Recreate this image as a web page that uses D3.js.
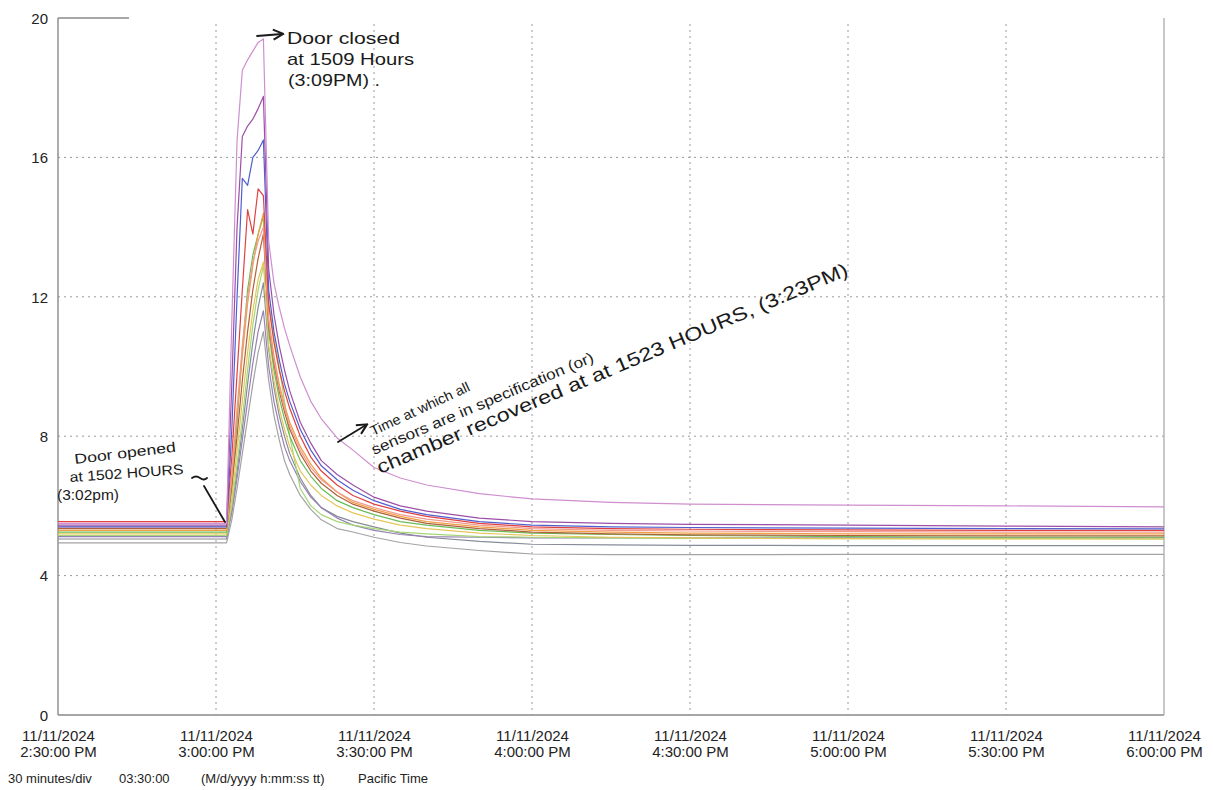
<!DOCTYPE html>
<html>
<head>
<meta charset="utf-8">
<script src="https://cdn.jsdelivr.net/npm/d3@7/dist/d3.min.js"></script>
<style>
  html, body { margin: 0; padding: 0; background: #ffffff; }
  svg { display: block; }
  .tick text { font-family: "Liberation Sans", Arial, sans-serif; fill: #222; }
  .note { font-family: "Liberation Sans", Arial, sans-serif; fill: #1a1a1a; }
</style>
</head>
<body>
<svg id="chart" width="1213" height="790"></svg>
<script>
// Minutes after 2:30:00 PM at which each sensor reading was logged
const minutes = [0, 32, 33, 34, 35, 36, 37, 38, 39, 40, 41, 42, 43, 44, 46, 48, 50, 53, 56, 60, 65, 70, 80, 90, 105, 120, 150, 180, 210];

// Sensor temperatures (°C), one array per probe
const sensorPink      = [5.50, 5.50, 11.3, 16.5, 18.5, 18.8, 19.05, 19.3, 19.4, 13.6, 12.4, 11.7, 11.1, 10.6, 9.7, 9.0, 8.5, 7.95, 7.6, 7.1, 6.8, 6.6, 6.35, 6.2, 6.1, 6.05, 6.02, 6.0, 5.97];
const sensorPurple    = [5.45, 5.45, 9.5, 14.0, 16.6, 16.9, 17.1, 17.4, 17.75, 12.8, 11.5, 10.6, 9.9, 9.3, 8.4, 7.8, 7.3, 6.9, 6.6, 6.25, 6.0, 5.85, 5.65, 5.55, 5.5, 5.47, 5.45, 5.42, 5.40];
const sensorBlue      = [5.40, 5.40, 8.2, 12.0, 15.4, 15.2, 16.0, 16.2, 16.5, 12.2, 11.0, 10.2, 9.5, 9.0, 8.2, 7.6, 7.15, 6.75, 6.45, 6.15, 5.9, 5.75, 5.55, 5.45, 5.4, 5.38, 5.36, 5.35, 5.34];
const sensorRed       = [5.55, 5.55, 7.4, 9.8, 12.2, 14.5, 13.8, 15.1, 14.9, 11.8, 10.7, 9.9, 9.3, 8.8, 8.0, 7.4, 7.0, 6.6, 6.3, 6.05, 5.85, 5.7, 5.5, 5.4, 5.35, 5.33, 5.31, 5.30, 5.30];
const sensorSalmon    = [5.40, 5.40, 6.9, 8.8, 10.6, 12.0, 13.0, 13.6, 14.0, 11.3, 10.2, 9.4, 8.8, 8.3, 7.6, 7.1, 6.75, 6.4, 6.15, 5.95, 5.75, 5.62, 5.45, 5.35, 5.3, 5.28, 5.26, 5.25, 5.25];
const sensorOrange    = [5.30, 5.30, 6.8, 8.6, 10.3, 11.8, 12.9, 13.8, 14.4, 11.4, 10.3, 9.5, 8.9, 8.4, 7.7, 7.2, 6.8, 6.4, 6.1, 5.9, 5.7, 5.55, 5.4, 5.3, 5.25, 5.22, 5.2, 5.2, 5.2];
const sensorBrown     = [5.35, 5.35, 6.6, 8.0, 9.6, 11.0, 12.2, 13.1, 13.8, 11.2, 10.1, 9.3, 8.7, 8.2, 7.5, 7.0, 6.65, 6.3, 6.05, 5.85, 5.65, 5.5, 5.35, 5.25, 5.2, 5.17, 5.15, 5.14, 5.14];
const sensorGreen     = [5.25, 5.25, 6.5, 8.4, 10.5, 12.2, 13.2, 13.8, 14.3, 11.0, 9.9, 9.1, 8.5, 8.0, 7.3, 6.85, 6.5, 6.15, 5.95, 5.75, 5.55, 5.45, 5.3, 5.22, 5.18, 5.15, 5.12, 5.1, 5.1];
const sensorYellow    = [5.20, 5.20, 6.2, 7.6, 9.0, 10.4, 11.6, 12.5, 13.0, 10.6, 9.6, 8.8, 8.2, 7.7, 7.0, 6.6, 6.3, 6.0, 5.8, 5.62, 5.45, 5.35, 5.22, 5.15, 5.1, 5.08, 5.06, 5.05, 5.05];
const sensorLime      = [5.15, 5.15, 6.0, 7.2, 8.5, 9.9, 11.2, 12.2, 12.9, 11.8, 10.8, 10.0, 9.0, 8.0, 6.5, 6.0, 5.75, 5.55, 5.45, 5.35, 5.25, 5.2, 5.12, 5.1, 5.08, 5.07, 5.06, 5.06, 5.05];
const sensorSlate     = [5.05, 5.05, 5.9, 7.0, 8.2, 9.5, 10.7, 11.7, 12.4, 10.5, 9.4, 8.6, 8.0, 7.5, 6.8, 6.3, 5.95, 5.7, 5.55, 5.4, 5.22, 5.1, 4.98, 4.9, 4.88, 4.87, 4.86, 4.86, 4.86];
const sensorLilacGray = [5.12, 5.12, 5.8, 6.8, 7.9, 9.0, 10.1, 11.0, 11.6, 10.0, 9.0, 8.3, 7.7, 7.3, 6.7, 6.25, 5.95, 5.65, 5.45, 5.3, 5.18, 5.12, 5.1, 5.08, 5.08, 5.08, 5.08, 5.08, 5.08];
const sensorLightGray = [4.94, 4.94, 5.6, 6.5, 7.5, 8.5, 9.5, 10.4, 11.0, 9.6, 8.6, 7.9, 7.3, 6.9, 6.3, 5.9, 5.6, 5.35, 5.25, 5.1, 4.95, 4.85, 4.72, 4.62, 4.6, 4.6, 4.61, 4.61, 4.61];

// Drawing order: bottom of the stack first
const sensors = [sensorLightGray, sensorSlate, sensorLilacGray, sensorLime, sensorYellow, sensorGreen,
                 sensorBrown, sensorOrange, sensorSalmon, sensorRed, sensorBlue, sensorPurple, sensorPink];
const sensorColors = ["#a3a3a3", "#878c98", "#9581b3", "#a6d676", "#e5c65a", "#69bd57",
                      "#b0603a", "#f19e44", "#f09a8e", "#e0413f", "#4f5fcf", "#9c4fa7", "#cf8fcf"];

const yTicks = [0, 4, 8, 12, 16, 20];
const xTickMinutes = [0, 30, 60, 90, 120, 150, 180, 210];
const footerItems = ["30 minutes/div", "03:30:00", "(M/d/yyyy h:mm:ss tt)", "Pacific Time"];

const startTime = new Date(2024, 10, 11, 14, 30, 0);
const at = m => new Date(startTime.getTime() + m * 60000);

const svg = d3.select("#chart");
const plotLeft = 58, plotRight = 1164, plotTop = 18, plotBottom = 715;

const x = d3.scaleTime().domain([at(0), at(210)]).range([plotLeft, plotRight]);
const y = d3.scaleLinear().domain([0, 20]).range([plotBottom, plotTop]);

// Dotted grid
const grid = svg.append("g").attr("stroke", "#9a9a9a").attr("stroke-width", 1)
  .attr("stroke-dasharray", "2,4");
grid.selectAll("line.h").data(yTicks.filter(v => v > 0 && v < 20)).join("line")
  .attr("x1", plotLeft).attr("x2", plotRight).attr("y1", d => y(d)).attr("y2", d => y(d));
grid.selectAll("line.v").data(xTickMinutes.filter(m => m > 0 && m < 210)).join("line")
  .attr("x1", d => x(at(d))).attr("x2", d => x(at(d))).attr("y1", plotTop + 6).attr("y2", plotBottom);

// Frame
const frame = svg.append("g").attr("stroke", "#8a8a8a").attr("stroke-width", 1.4).attr("fill", "none");
frame.append("line").attr("x1", plotLeft).attr("x2", plotLeft).attr("y1", plotTop).attr("y2", plotBottom);
frame.append("line").attr("x1", plotLeft).attr("x2", plotRight).attr("y1", plotBottom).attr("y2", plotBottom);
frame.append("line").attr("x1", plotRight).attr("x2", plotRight).attr("y1", plotTop).attr("y2", plotBottom).attr("stroke", "#b0b0b0");
frame.append("line").attr("x1", plotLeft).attr("x2", plotLeft + 71).attr("y1", plotTop).attr("y2", plotTop);

// Y axis labels
const yAxis = d3.axisLeft(y).tickValues(yTicks).tickSize(0).tickPadding(10).tickFormat(d3.format("d"));
const gy = svg.append("g").attr("transform", `translate(${plotLeft},0)`).call(yAxis);
gy.select(".domain").remove();
gy.selectAll(".tick text").attr("font-size", 15).attr("dy", "0.35em");

// X axis labels (date over time)
const fmtDate = d3.timeFormat("%m/%d/%Y");
const fmtTime = d3.timeFormat("%-I:%M:%S %p");
const xAxis = d3.axisBottom(x).tickValues(xTickMinutes.map(at)).tickSize(0).tickFormat("");
const gx = svg.append("g").attr("transform", `translate(0,${plotBottom})`).call(xAxis);
gx.select(".domain").remove();
gx.selectAll(".tick").each(function(d) {
  const t = d3.select(this).append("text").attr("text-anchor", "middle")
    .attr("font-size", 15).attr("fill", "#222");
  t.append("tspan").attr("x", 0).attr("y", 26).text(fmtDate(d));
  t.append("tspan").attr("x", 0).attr("y", 42).text(fmtTime(d));
});

// Footer
const footerX = [8, 119, 201, 358];
svg.append("g").selectAll("text").data(footerItems).join("text")
  .attr("x", (d, i) => footerX[i]).attr("y", 783)
  .attr("font-family", "Liberation Sans, Arial, sans-serif").attr("font-size", 13).attr("fill", "#222")
  .text(d => d);

// Sensor traces
const line = d3.line().x((d, i) => x(at(minutes[i]))).y(d => y(d));
svg.append("g").attr("fill", "none").attr("stroke-width", 1.2).attr("stroke-linejoin", "round")
  .selectAll("path").data(sensors).join("path")
  .attr("stroke", (d, i) => sensorColors[i]).attr("d", line);

// Hand-written notes
const notes = svg.append("g").attr("class", "note");
svg.append("defs").append("marker").attr("id", "arrowHead")
  .attr("viewBox", "0 0 10 10").attr("refX", 8).attr("refY", 5)
  .attr("markerWidth", 7).attr("markerHeight", 7).attr("orient", "auto")
  .append("path").attr("d", "M1,1 L9,5 L1,9").attr("fill", "none").attr("stroke", "#1a1a1a").attr("stroke-width", 1.6);

const pen = svg.append("g").attr("stroke", "#1a1a1a").attr("stroke-width", 1.8).attr("fill", "none")
  .attr("stroke-linecap", "round");

// Door closed
pen.append("path").attr("d", "M257,36 L282,34").attr("marker-end", "url(#arrowHead)");
const closedLines = [
  { t: "Door closed", x: 287, y: 44, w: 113 },
  { t: "at 1509 Hours", x: 287, y: 65, w: 127 },
  { t: "(3:09PM) .", x: 288, y: 86, w: 92 }
];
notes.selectAll("text.closed").data(closedLines).join("text")
  .attr("x", d => d.x).attr("y", d => d.y).attr("font-size", 17)
  .attr("textLength", d => d.w).attr("lengthAdjust", "spacingAndGlyphs").text(d => d.t);

// Door opened
const openedLines = [
  { t: "Door opened", x: 75, y: 464, w: 102, r: -7 },
  { t: "at 1502 HOURS", x: 70, y: 482, w: 114, r: -4 },
  { t: "(3:02pm)", x: 57, y: 500, w: 62, r: 0 }
];
notes.selectAll("text.opened").data(openedLines).join("text")
  .attr("transform", d => `translate(${d.x},${d.y}) rotate(${d.r})`)
  .attr("font-size", 14).attr("textLength", d => d.w).attr("lengthAdjust", "spacingAndGlyphs").text(d => d.t);
pen.append("path").attr("d", "M192,478 q4,-3 8,0 q4,3 7,0");
pen.append("path").attr("d", "M204,486 L225,522");

// Recovery note
pen.append("path").attr("d", "M338,442 L366,425").attr("marker-end", "url(#arrowHead)");
const recoveryLines = [
  { t: "Time at which all", x: 373, y: 436, w: 108, r: -25, s: 14 },
  { t: "sensors are in specification (or)", x: 374, y: 455, w: 240, r: -23, s: 15 },
  { t: "chamber recovered at at 1523 HOURS, (3:23PM)", x: 380, y: 474, w: 510, r: -23, s: 19 }
];
notes.selectAll("text.rec").data(recoveryLines).join("text")
  .attr("transform", d => `translate(${d.x},${d.y}) rotate(${d.r})`)
  .attr("font-size", d => d.s).attr("textLength", d => d.w).attr("lengthAdjust", "spacingAndGlyphs").text(d => d.t);
</script>
</body>
</html>
